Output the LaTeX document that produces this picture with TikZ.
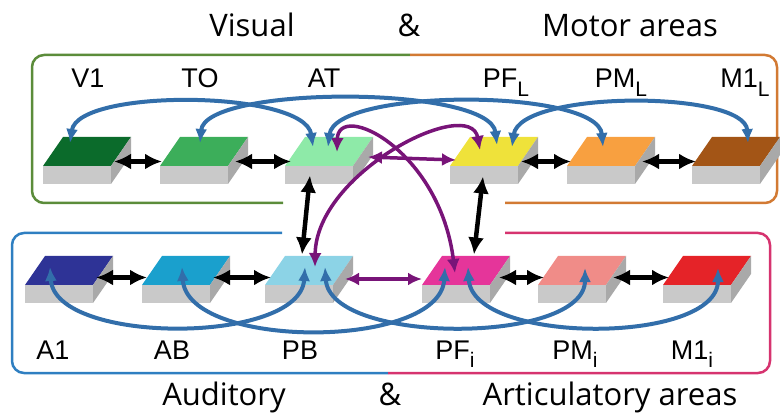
\documentclass[tikz,border=0pt]{standalone}
\usepackage{fontspec}
\usetikzlibrary{arrows.meta,calc}
\newfontfamily\labelfont{Liberation Sans}
\newfontfamily\titlefont{Open Sans}

\definecolor{vone}{HTML}{0B6B2B}
\definecolor{tocol}{HTML}{3CAE5A}
\definecolor{atcol}{HTML}{8EEAA8}
\definecolor{pflcol}{HTML}{EFE23A}
\definecolor{pmlcol}{HTML}{F8A040}
\definecolor{mlcol}{HTML}{A35516}
\definecolor{aone}{HTML}{2E3396}
\definecolor{abcol}{HTML}{1AA0CD}
\definecolor{pbcol}{HTML}{8CD3E6}
\definecolor{pficol}{HTML}{E5359A}
\definecolor{pmicol}{HTML}{F08C88}
\definecolor{micol}{HTML}{E52328}
\definecolor{facegray}{HTML}{C9C9C9}
\definecolor{sidegray}{HTML}{A9A9A9}
\definecolor{arcblue}{HTML}{326EAA}
\definecolor{linkpurple}{HTML}{781478}
\definecolor{vgreen}{HTML}{5B8C3A}
\definecolor{morange}{HTML}{D27A33}
\definecolor{ablue}{HTML}{2F7FC1}
\definecolor{apink}{HTML}{D6336F}

\tikzset{
  areanode/.style={minimum width=68pt, minimum height=29pt, inner sep=0pt},
  frame/.style={line width=2.5pt, rounded corners=12pt},
  title/.style={font=\titlefont\fontsize{31}{33}\selectfont, anchor=base, inner sep=0pt},
  lbl/.style={font=\labelfont\fontsize{27}{29}\selectfont, anchor=base, inner sep=0pt},
  blackarrow/.style={line width=4.5pt, black, arrows={Latex[length=17pt,width=16pt]-Latex[length=17pt,width=16pt]}},
  purplearrow/.style={line width=3.5pt, linkpurple, arrows={Latex[length=14pt,width=13pt]-Latex[length=14pt,width=13pt]}},
  bluearc/.style={line width=4pt, arcblue, arrows={Latex[length=14pt,width=12pt]-Latex[length=14pt,width=12pt]}}
}

% name, x, y (front left corner of the top face), colour
\newcommand{\brainarea}[4]{%
  \fill[#4] (#2,#3) -- ++(68,0) -- ++(20,-29) -- ++(-68,0) -- cycle;
  \fill[facegray] (#2,#3) rectangle ++(68,18);
  \fill[sidegray] ($(#2,#3)+(68,0)$) -- ++(20,-29) -- ++(0,18) -- ++(-20,29) -- cycle;
  \node[areanode] (#1) at ($(#2,#3)+(44,-14.5)$) {};
}
\newcommand{\lowsub}[1]{\raisebox{-9pt}{\fontsize{21}{21}\selectfont#1}}

\begin{document}
\begin{tikzpicture}[x=1pt,y=-1pt]
	\useasboundingbox (0,0) rectangle (780,417);

	% frames
	\draw[frame, vgreen] (283,203) -- (32,203) -- (32,55) -- (410,55);
	\draw[frame, morange] (410,55) -- (777,55) -- (777,203) -- (505,203);
	\draw[frame, ablue] (282,233) -- (12,233) -- (12,373) -- (388,373);
	\draw[frame, apink] (505,233) -- (770,233) -- (770,373) -- (388,373);

	\node[title] (visual) at (252,37) {Visual};
	\node[title] (andtop) at (409,37) {\&};
	\node[title] (motor) at (630,37) {Motor areas};
	\node[title] (auditory) at (224,405) {Auditory};
	\node[title] (andbot) at (390,405) {\&};
	\node[title] (artic) at (610,405) {Articulatory areas};

	% areas
	\brainarea{V1}{43}{166}{vone}
	\brainarea{TO}{160}{166}{tocol}
	\brainarea{AT}{285}{166}{atcol}
	\brainarea{PFL}{450}{166}{pflcol}
	\brainarea{PML}{567}{166}{pmlcol}
	\brainarea{M1L}{692}{166}{mlcol}
	\brainarea{A1}{25}{285}{aone}
	\brainarea{AB}{142}{285}{abcol}
	\brainarea{PB}{265}{285}{pbcol}
	\brainarea{PFi}{422}{285}{pficol}
	\brainarea{PMi}{538}{285}{pmicol}
	\brainarea{M1i}{663}{285}{micol}

	\node[lbl] (lV1) at (88,88) {V1};
	\node[lbl] (lTO) at (200,88) {TO};
	\node[lbl] (lAT) at (324,88) {AT};
	\node[lbl] (lPFL) at (506,88) {PF\lowsub{L}};
	\node[lbl] (lPML) at (621,88) {PM\lowsub{L}};
	\node[lbl] (lM1L) at (745,88) {M1\lowsub{L}};
	\node[lbl] (lA1) at (53,359) {A1};
	\node[lbl] (lAB) at (172,359) {AB};
	\node[lbl] (lPB) at (300,359) {PB};
	\node[lbl] (lPFi) at (455,359) {PF\lowsub{i}};
	\node[lbl] (lPMi) at (575,359) {PM\lowsub{i}};
	\node[lbl] (lM1i) at (692,359) {M1\lowsub{i}};

	% neighbours
	\draw[blackarrow] ($(V1)+(27,10)$) -- ($(TO)+(-42,10)$);
	\draw[blackarrow] ($(TO)+(31,10)$) -- ($(AT)+(-38,10)$);
	\draw[blackarrow] ($(PFL)+(27,10)$) -- ($(PML)+(-40,10)$);
	\draw[blackarrow] ($(PML)+(31,10)$) -- ($(M1L)+(-40,10)$);
	\draw[blackarrow] ($(A1)+(27,7)$) -- ($(AB)+(-39,7)$);
	\draw[blackarrow] ($(AB)+(27,7)$) -- ($(PB)+(-38,7)$);
	\draw[blackarrow] ($(PFi)+(33,7)$) -- ($(PMi)+(-38,7)$);
	\draw[blackarrow] ($(PMi)+(31,7)$) -- ($(M1i)+(-38,7)$);
	\draw[blackarrow] ($(AT)+(-19,24)$) -- ($(PB)+(-7,-16)$);
	\draw[blackarrow] ($(PFL)+(-11,25)$) -- ($(PFi)+(8,-16)$);

	% purple links
	\draw[purplearrow] ($(AT)+(39,5.5)$) -- ($(PFL)+(-38,8.5)$);
	\draw[purplearrow] ($(PB)+(36,8.5)$) -- ($(PFi)+(-44,8.5)$);
	\draw[purplearrow] ($(PB)+(6,-3.5)$) .. controls +(1,-95) and +(-10,-55) .. ($(PFL)+(-14,-1.5)$);
	\draw[purplearrow] ($(AT)+(8,0.5)$) .. controls +(1,-52) and +(-15,-123) .. ($(PFi)+(-11,2.5)$);

	% blue arcs
	\draw[bluearc] ($(V1)+(-17,-8.5)$) .. controls +(8,-55) and +(-8,-57) .. ($(AT)+(-16,-4.5)$);
	\draw[bluearc] ($(TO)+(-4,-8.5)$) .. controls +(5,-58) and +(-7,-60) .. ($(PFL)+(3,-6.5)$);
	\draw[bluearc] ($(AT)+(-1,-4.5)$) .. controls +(7,-59) and +(-5,-59) .. ($(PML)+(-8,-4.5)$);
	\draw[bluearc] ($(PFL)+(18,-4.5)$) .. controls +(8,-57) and +(-3,-53) .. ($(M1L)+(12,-8.5)$);
	\draw[bluearc] ($(A1)+(-19,-3.5)$) .. controls +(5,78) and +(-5,78) .. ($(PB)+(-4,-3.5)$);
	\draw[bluearc] ($(AB)+(-4,-3.5)$) .. controls +(5,83) and +(-5,83) .. ($(PFi)+(-21,-3.5)$);
	\draw[bluearc] ($(PB)+(16,-3.5)$) .. controls +(5,78) and +(0,77) .. ($(PMi)+(3,-2.5)$);
	\draw[bluearc] ($(PFi)+(2,-3.5)$) .. controls +(5,78) and +(0,77) .. ($(M1i)+(11,-2.5)$);
\end{tikzpicture}
\end{document}
